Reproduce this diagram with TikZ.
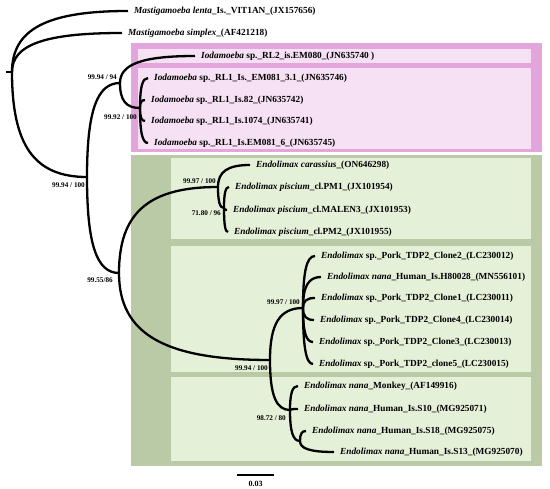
\documentclass[tikz,border=0pt]{standalone}
\usepackage{fontspec}
\setmainfont{Liberation Serif}
\usetikzlibrary{calc}
\definecolor{pinkO}{RGB}{226,166,220}
\definecolor{pinkI}{RGB}{246,224,244}
\definecolor{greenO}{RGB}{186,201,166}
\definecolor{greenI}{RGB}{229,240,217}
\newcommand\brc[2]{\draw[branch] (#1) .. controls ($(#1)!0.7!(#1 |- #2)$) and ($(#2)!0.7!(#1 |- #2)$) .. (#2);}
\begin{document}
\begin{tikzpicture}[x=1pt,y=-1pt,
  branch/.style={line width=2.3pt},
  leaf/.style={anchor=west, inner xsep=6pt, inner ysep=0pt, font=\fontsize{9.3}{10}\selectfont\bfseries},
  bs/.style={anchor=east, inner sep=0pt, font=\fontsize{7.2}{7.5}\selectfont\bfseries}]
\useasboundingbox (0,0) rectangle (550,489);
% boxes
\fill[pinkO] (131,43) rectangle (542,152);
\fill[pinkI] (138,49) rectangle (531,63);
\fill[pinkI] (138,68) rectangle (531,149);
\fill[greenO] (131,155) rectangle (542,466);
\fill[greenI] (171,158) rectangle (531,239);
\fill[greenI] (171,246) rectangle (531,372);
\fill[greenI] (171,377) rectangle (531,461);
% internal nodes
\coordinate (R0) at (6,72);
\coordinate (R) at (12,72);
\coordinate (A) at (87,177);
\coordinate (B) at (120,83);
\coordinate (B2) at (140,108);
\coordinate (C) at (119,273);
\coordinate (D) at (218,187);
\coordinate (D2) at (224,208);
\coordinate (E) at (270,360);
\coordinate (F) at (303,308);
\coordinate (G) at (290,410);
\coordinate (G2) at (300,441);
% leaves
\node[leaf] (l1) at (128,11) {\textit{Mastigamoeba lenta}\_Is.\_VIT1AN\_(JX157656)};
\node[leaf] (l2) at (122,33) {\textit{Mastigamoeba simplex}\_(AF421218)};
\node[leaf] (l3) at (195,56) {\textit{Iodamoeba} sp.\_RL2\_is.EM080\_(JN635740 )};
\node[leaf] (l4) at (148,78) {\textit{Iodamoeba} sp.\_RL1\_Is.\_EM081\_3.1\_(JN635746)};
\node[leaf] (l5) at (145,100) {\textit{Iodamoeba} sp.\_RL1\_Is.82\_(JN635742)};
\node[leaf] (l6) at (145,121) {\textit{Iodamoeba} sp.\_RL1\_Is.1074\_(JN635741)};
\node[leaf] (l7) at (148,143) {\textit{Iodamoeba} sp.\_RL1\_Is.EM081\_6\_(JN635745)};
\node[leaf] (l8) at (250,165) {\textit{Endolimax carassius}\_(ON646298)};
\node[leaf] (l9) at (229,187) {\textit{Endolimax piscium}\_cl.PM1\_(JX101954)};
\node[leaf] (l10) at (227,210) {\textit{Endolimax piscium}\_cl.MALEN3\_(JX101953)};
\node[leaf] (l11) at (228,232) {\textit{Endolimax piscium}\_cl.PM2\_(JX101955)};
\node[leaf] (l12) at (315,256) {\textit{Endolimax} sp.\_Pork\_TDP2\_Clone2\_(LC230012)};
\node[leaf] (l13) at (321,277) {\textit{Endolimax nana}\_Human\_Is.H80028\_(MN556101)};
\node[leaf] (l14) at (315,298) {\textit{Endolimax} sp.\_Pork\_TDP2\_Clone1\_(LC230011)};
\node[leaf] (l15) at (314,320) {\textit{Endolimax} sp.\_Pork\_TDP2\_Clone4\_(LC230014)};
\node[leaf] (l16) at (313,342) {\textit{Endolimax} sp.\_Pork\_TDP2\_Clone3\_(LC230013)};
\node[leaf] (l17) at (313,364) {\textit{Endolimax} sp.\_Pork\_TDP2\_clone5\_(LC230015)};
\node[leaf] (l18) at (298,386) {\textit{Endolimax nana}\_Monkey\_(AF149916)};
\node[leaf] (l19) at (298,409) {\textit{Endolimax nana}\_Human\_Is.S10\_(MG925071)};
\node[leaf] (l20) at (306,431) {\textit{Endolimax nana}\_Human\_Is.S18\_(MG925075)};
\node[leaf] (l21) at (334,452) {\textit{Endolimax nana}\_Human\_Is.S13\_(MG925070)};
% branches
\draw[branch] (R0) -- (R);
\brc{R}{l1.west}
\brc{R}{l2.west}
\brc{R}{A}
\brc{A}{B}
\brc{A}{C}
\brc{B}{l3.west}
\brc{B}{B2}
\brc{B2}{l4.west}
\brc{B2}{l5.west}
\brc{B2}{l6.west}
\brc{B2}{l7.west}
\brc{C}{D}
\brc{C}{E}
\brc{D}{l8.west}
\brc{D}{D2}
\brc{D2}{l9.west}
\brc{D2}{l10.west}
\brc{D2}{l11.west}
\brc{E}{F}
\brc{E}{G}
\brc{F}{l12.west}
\brc{F}{l13.west}
\brc{F}{l14.west}
\brc{F}{l15.west}
\brc{F}{l16.west}
\brc{F}{l17.west}
\brc{G}{l18.west}
\brc{G}{l19.west}
\brc{G}{G2}
\brc{G2}{l20.west}
\brc{G2}{l21.west}
% support values
\node[bs] (bA) at (85,185) {99.94 / 100};
\node[bs] (bB) at (117,77) {99.94 / 94};
\node[bs] (bB2) at (137,117) {99.92 / 100};
\node[bs] (bC) at (113,280) {99.55/86};
\node[bs] (bD) at (216,181) {99.97 / 100};
\node[bs] (bD2) at (221,213) {71.80 / 96};
\node[bs] (bE) at (268,368) {99.94 / 100};
\node[bs] (bF) at (300,302) {99.97 / 100};
\node[bs] (bG) at (286,418) {98.72 / 80};
% scale bar
\coordinate (s1) at (237,475);
\coordinate (s2) at (274,475);
\draw[branch] (s1) -- (s2);
\node[inner sep=0pt, font=\fontsize{8}{8}\selectfont\bfseries] (sl) at (255.5,484) {0.03};
\end{tikzpicture}
\end{document}
